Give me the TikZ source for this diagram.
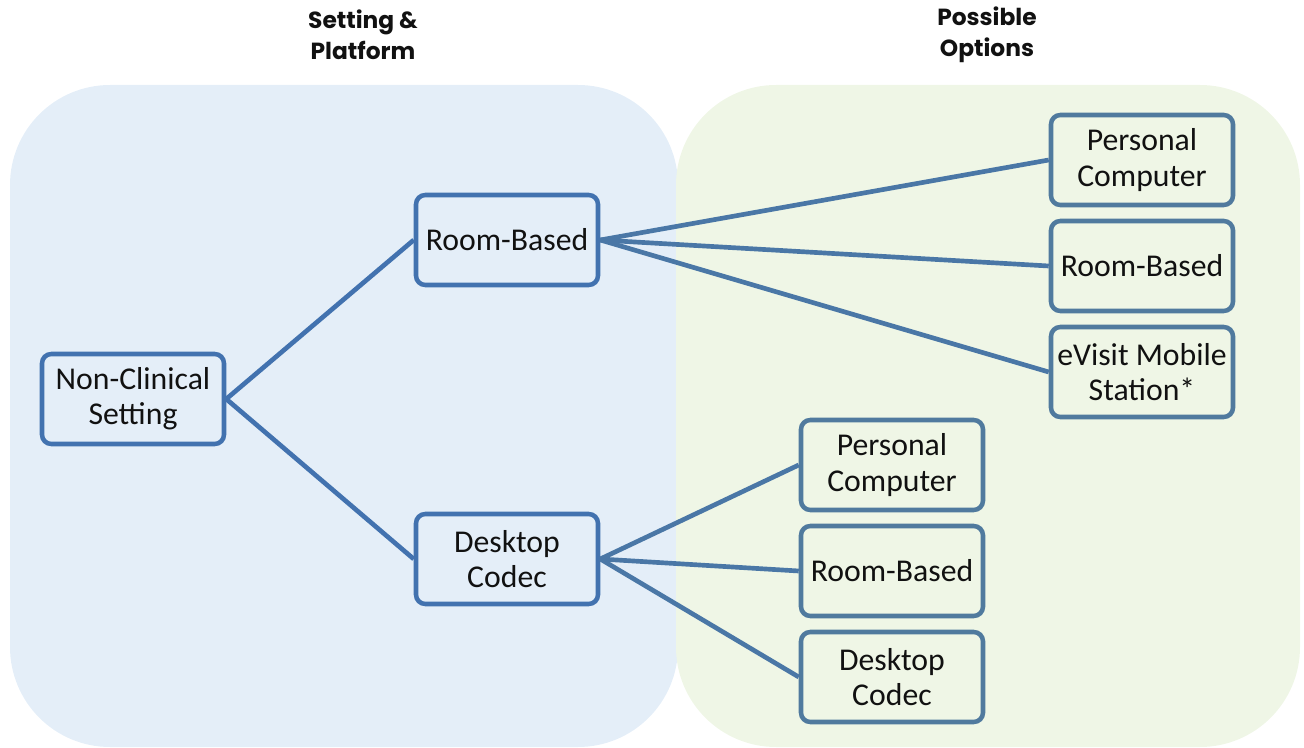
\documentclass[tikz,border=0pt]{standalone}
\usepackage{fontspec}
\setmainfont{Carlito}
\newfontfamily\hdrfont{Poppins}
\definecolor{bgblue}{HTML}{E4EEF8}
\definecolor{bggreen}{HTML}{EFF6E6}
\definecolor{leftedge}{HTML}{4272AF}
\definecolor{rightedge}{HTML}{507A9E}
\definecolor{linkcol}{HTML}{4A77A6}
\definecolor{txt}{HTML}{111111}
\tikzset{
  region/.style={rounded corners=75pt},
  box/.style={draw, line width=3.4pt, rounded corners=7pt, minimum width=136.5pt, minimum height=67.5pt,
    align=center, text=txt, font=\fontsize{23.8}{26.5}\selectfont, inner sep=2pt},
  lbox/.style={box, draw=leftedge, fill=bgblue},
  rbox/.style={box, draw=rightedge, fill=bggreen},
  link/.style={line width=3.5pt, draw=linkcol},
  llink/.style={line width=3.5pt, draw=leftedge},
  hdr/.style={align=center, text=txt, font=\hdrfont\bfseries\fontsize{17.5}{23.5}\selectfont}
}
\begin{document}
\begin{tikzpicture}[x=0.75pt, y=-0.75pt]
\useasboundingbox (0,0) rectangle (1304,748);
\fill[bgblue, region] (10,85) rectangle (678,747);
\fill[bggreen, region] (676,85) rectangle (1300,747);
\node[hdr] (h1) at (363,35) {Setting \&\\Platform};
\node[hdr] (h2) at (987,35) {Possible\\Options};
\node[lbox] (nc) at (133,399) {Non-Clinical\\Setting};
\node[lbox] (rb) at (507,240) {Room-Based};
\node[lbox] (dc) at (507,559) {Desktop\\Codec};
\node[rbox] (pc1) at (1142,160) {Personal\\Computer};
\node[rbox] (rb1) at (1142,266) {Room-Based};
\node[rbox] (ev1) at (1142,372) {eVisit Mobile\\Station*};
\node[rbox] (pc2) at (892,465) {Personal\\Computer};
\node[rbox] (rb2) at (892,571) {Room-Based};
\node[rbox] (dc2) at (892,677) {Desktop\\Codec};
\draw[llink] (nc.east) -- (rb.west);
\draw[llink] (nc.east) -- (dc.west);
\draw[link] (rb.east) -- (pc1.west);
\draw[link] (rb.east) -- (rb1.west);
\draw[link] (rb.east) -- (ev1.west);
\draw[link] (dc.east) -- (pc2.west);
\draw[link] (dc.east) -- (rb2.west);
\draw[link] (dc.east) -- (dc2.west);
\end{tikzpicture}
\end{document}
